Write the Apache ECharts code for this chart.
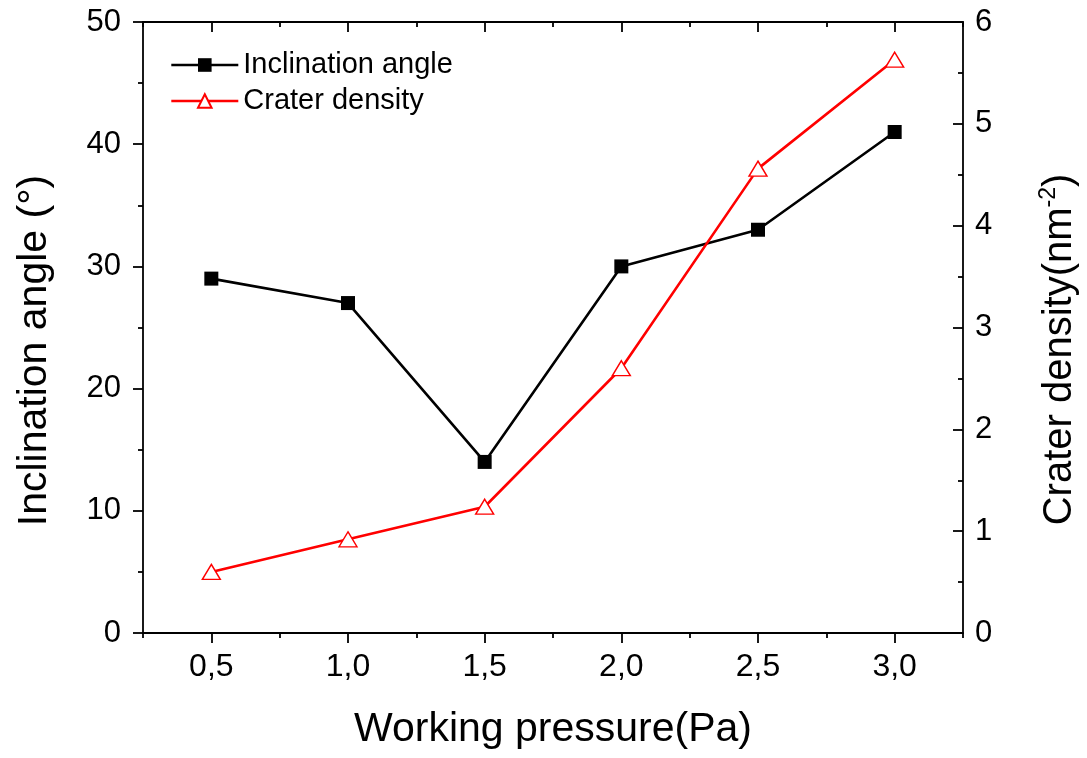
<!DOCTYPE html>
<html>
<head>
<meta charset="utf-8">
<script src="https://cdn.jsdelivr.net/npm/echarts@6/dist/echarts.min.js"></script>
<style>
html,body{margin:0;padding:0;background:#fff;}
#chart{width:1087px;height:758px;}
</style>
</head>
<body>
<div id="chart"></div>
<script>
// ---- data ----
var pressure = [0.5, 1.0, 1.5, 2.0, 2.5, 3.0];
var inclinationAngle = [29, 27, 14, 30, 33, 41];
var craterDensity = [0.60, 0.92, 1.24, 2.60, 4.56, 5.63];
var xMajorTicks = [0.5, 1.0, 1.5, 2.0, 2.5, 3.0];
var xMinorTicks = [0.25, 0.75, 1.25, 1.75, 2.25, 2.75, 3.25];
var seriesNames = ['Inclination angle', 'Crater density'];

function pairs(xs, ys) { return xs.map(function (x, i) { return [x, ys[i]]; }); }

var FONT = '"Liberation Sans", Arial, sans-serif';
var axisLine = { show: true, lineStyle: { color: '#000', width: 1.8 } };
var tickStyle = { color: '#000', width: 1.8 };

var chart = echarts.init(document.getElementById('chart'), null, { renderer: 'canvas' });
chart.setOption({
  backgroundColor: '#fff',
  animation: false,
  grid: { left: 143, right: 124, top: 22, bottom: 125, containLabel: false, outerBoundsMode: 'none' },
  legend: {
    orient: 'vertical',
    left: 165,
    top: 44,
    itemWidth: 67,
    itemHeight: 17,
    itemGap: 4,
    data: seriesNames,
    lineStyle: { width: 2.6 },
    textStyle: { fontFamily: FONT, fontSize: 29, color: '#000', lineHeight: 32 }
  },
  xAxis: [
    {
      type: 'value', position: 'bottom', min: 0.25, max: 3.25,
      name: 'Working pressure(Pa)', nameLocation: 'middle', nameGap: 76,
      nameTextStyle: { fontFamily: FONT, fontSize: 41, color: '#000' },
      axisLine: axisLine,
      axisTick: { show: true, inside: false, length: 10, lineStyle: tickStyle, customValues: xMajorTicks },
      axisLabel: { show: true, margin: 18, fontFamily: FONT, fontSize: 32, color: '#000', customValues: xMajorTicks,
        formatter: function (v) { return v.toFixed(1).replace('.', ','); } },
      splitLine: { show: false }
    },
    {
      type: 'value', position: 'bottom', min: 0.25, max: 3.25,
      axisLine: { show: false },
      axisTick: { show: true, inside: false, length: 5, lineStyle: tickStyle, customValues: xMinorTicks },
      axisLabel: { show: false },
      splitLine: { show: false }
    },
    {
      type: 'value', position: 'top', min: 0.25, max: 3.25,
      axisLine: axisLine,
      axisTick: { show: true, inside: true, length: 10, lineStyle: tickStyle, customValues: xMajorTicks },
      axisLabel: { show: false },
      splitLine: { show: false }
    },
    {
      type: 'value', position: 'top', min: 0.25, max: 3.25,
      axisLine: { show: false },
      axisTick: { show: true, inside: true, length: 5, lineStyle: tickStyle, customValues: xMinorTicks },
      axisLabel: { show: false },
      splitLine: { show: false }
    }
  ],
  yAxis: [
    {
      type: 'value', position: 'left', min: 0, max: 50, interval: 10,
      name: 'Inclination angle (\u00B0)', nameLocation: 'middle', nameGap: 88, nameRotate: 90,
      nameTextStyle: { fontFamily: FONT, fontSize: 41, color: '#000', padding: [0, 46, 0, 0] },
      axisLine: axisLine,
      axisTick: { show: true, inside: false, length: 10, lineStyle: tickStyle },
      minorTick: { show: true, splitNumber: 2, length: 5, lineStyle: tickStyle },
      axisLabel: { margin: 22, fontFamily: FONT, fontSize: 31, color: '#000' },
      splitLine: { show: false }
    },
    {
      type: 'value', position: 'right', min: 0, max: 6, interval: 1,
      name: '{a|Crater density(nm}{b|-2}{a|)}', nameLocation: 'middle', nameGap: 74, nameRotate: 90,
      nameTextStyle: {
        fontFamily: FONT, fontSize: 40, color: '#000', padding: [0, 44, 0, 0],
        rich: {
          a: { fontFamily: FONT, fontSize: 40, color: '#000', lineHeight: 46 },
          b: { fontFamily: FONT, fontSize: 23, color: '#000', verticalAlign: 'top', lineHeight: 46 }
        }
      },
      axisLine: axisLine,
      axisTick: { show: true, inside: true, length: 10, lineStyle: tickStyle },
      minorTick: { show: true, splitNumber: 2, length: 5, lineStyle: tickStyle },
      axisLabel: { margin: 12, fontFamily: FONT, fontSize: 31, color: '#000' },
      splitLine: { show: false }
    }
  ],
  series: [
    {
      name: seriesNames[0], type: 'line', xAxisIndex: 0, yAxisIndex: 0,
      data: pairs(pressure, inclinationAngle),
      symbol: 'rect', symbolSize: 14,
      lineStyle: { color: '#000', width: 2.6 },
      itemStyle: { color: '#000' }
    },
    {
      name: seriesNames[1], type: 'line', xAxisIndex: 0, yAxisIndex: 1,
      data: pairs(pressure, craterDensity),
      symbol: 'triangle', symbolSize: [18, 15],
      lineStyle: { color: '#ff0000', width: 2.6 },
      itemStyle: { color: '#fff', borderColor: '#ff0000', borderWidth: 1.4 }
    }
  ]
});
</script>
</body>
</html>
